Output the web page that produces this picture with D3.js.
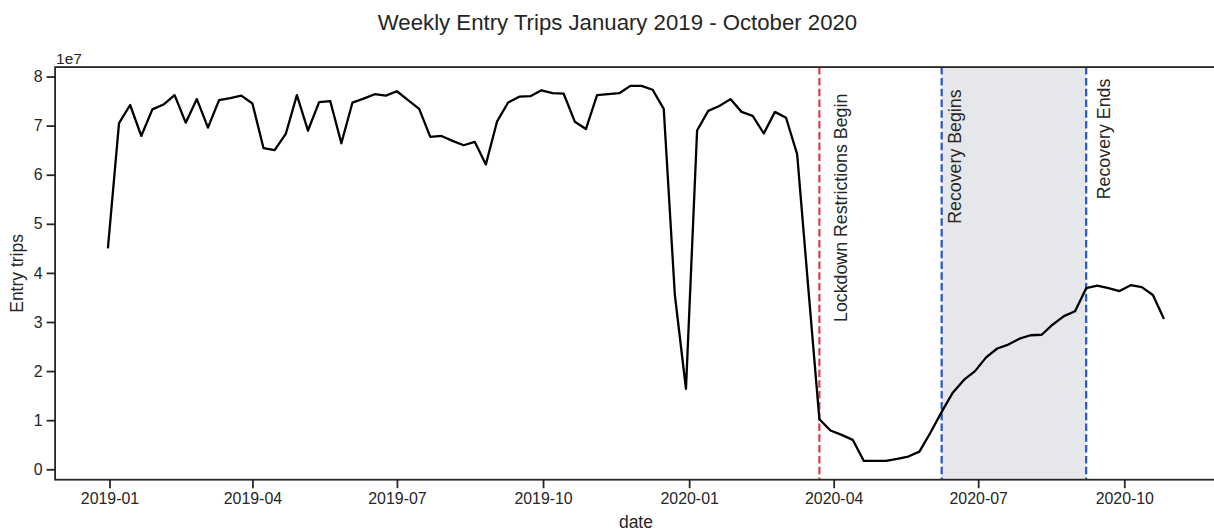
<!DOCTYPE html>
<html>
<head>
<meta charset="utf-8">
<script src="https://cdn.jsdelivr.net/npm/d3@7"></script>
<style>
  body { margin: 0; background: #fff; }
  svg { display: block; }
  text { font-family: "Liberation Sans", Arial, Helvetica, sans-serif; fill: #262626; }
</style>
</head>
<body>
<svg id="chart" width="1214" height="531"></svg>
<script>
// Weekly entry trips (millions), one value per week starting Monday 2018-12-31
const firstWeek = "2018-12-31";
const entryTripsMillions = [
  45.0, 70.5, 74.2, 67.9, 73.3, 74.3, 76.2, 70.6, 75.4, 69.6,
  75.2, 75.6, 76.1, 74.5, 65.4, 65.0, 68.3, 76.2, 69.0, 74.8,
  75.0, 66.4, 74.7, 75.5, 76.4, 76.1, 77.0, 75.2, 73.4, 67.7,
  67.9, 66.9, 66.0, 66.7, 62.1, 70.8, 74.7, 75.9, 76.0, 77.2,
  76.6, 76.5, 70.8, 69.3, 76.2, 76.4, 76.6, 78.1, 78.1, 77.3,
  73.4, 35.5, 16.4, 69.0, 73.0, 74.0, 75.4, 72.8, 72.0, 68.4,
  72.8, 71.6, 64.2, 37.0, 10.2, 7.9, 7.0, 6.0, 1.7, 1.7,
  1.7, 2.1, 2.6, 3.6, 7.5, 11.7, 15.6, 18.2, 20.0, 22.8,
  24.6, 25.4, 26.6, 27.3, 27.4, 29.5, 31.2, 32.2, 36.9, 37.4,
  36.9, 36.3, 37.5, 37.1, 35.5, 30.6
];

// Event markers
const eventDates  = ["2020-03-23", "2020-06-08", "2020-09-07"];
const eventLabels = ["Lockdown Restrictions Begin", "Recovery Begins", "Recovery Ends"];
// Where each event label sits (date, entry trips)
const labelDates  = ["2020-04-01", "2020-06-12", "2020-09-14"];
const labelValues = [30e6, 50e6, 55e6];

// Axis ticks
const xTickDates  = ["2019-01-01", "2019-04-01", "2019-07-01", "2019-10-01",
                     "2020-01-01", "2020-04-01", "2020-07-01", "2020-10-01"];
const yTickValues = [0, 1e7, 2e7, 3e7, 4e7, 5e7, 6e7, 7e7, 8e7];

const titleText = "Weekly Entry Trips January 2019 - October 2020";
const xLabel = "date";
const yLabel = "Entry trips";
const offsetLabel = "1e7";

// ---------------------------------------------------------------
const parse = d3.utcParse("%Y-%m-%d");
const start = parse(firstWeek);
const series = entryTripsMillions.map((m, i) => ({
  date: d3.utcDay.offset(start, 7 * i),
  value: m * 1e6
}));

const svg = d3.select("#chart");
const plot = { left: 55.1, right: 1216.8, top: 67.1, bottom: 479.7 };

// 5% padding on both axes, like the default autoscale margins
const xExt = d3.extent(series, d => d.date);
const xPad = (xExt[1] - xExt[0]) * 0.05;
const x = d3.scaleUtc()
  .domain([new Date(+xExt[0] - xPad), new Date(+xExt[1] + xPad)])
  .range([plot.left, plot.right]);

const yExt = d3.extent(series, d => d.value);
const yPad = (yExt[1] - yExt[0]) * 0.05;
const y = d3.scaleLinear()
  .domain([yExt[0] - yPad, yExt[1] + yPad])
  .range([plot.bottom, plot.top]);

const RED = "#d6404e";
const BLUE = "#2457c5";

// Recovery period shading
const recStart = parse(eventDates[1]), recEnd = parse(eventDates[2]);
svg.append("rect")
  .attr("x", x(recStart)).attr("y", plot.top)
  .attr("width", x(recEnd) - x(recStart))
  .attr("height", plot.bottom - plot.top)
  .attr("fill", "#e5e7ea");

// Event lines
svg.append("g").selectAll("line")
  .data(eventDates)
  .join("line")
  .attr("x1", d => x(parse(d))).attr("x2", d => x(parse(d)))
  .attr("y1", plot.top).attr("y2", plot.bottom)
  .attr("stroke", (d, i) => i === 0 ? RED : BLUE)
  .attr("stroke-width", 2.2)
  .attr("stroke-dasharray", "7.5,3.3");

// Entry trips line
svg.append("path")
  .datum(series)
  .attr("fill", "none")
  .attr("stroke", "#000")
  .attr("stroke-width", 2.3)
  .attr("stroke-linejoin", "round")
  .attr("d", d3.line().x(d => x(d.date)).y(d => y(d.value)));

// Event labels, rotated to read upwards
const annoSize = 17.8;
svg.append("g").selectAll("text")
  .data(eventLabels)
  .join("text")
  .attr("transform", (d, i) =>
    `translate(${x(parse(labelDates[i])) + 0.73 * annoSize},${y(labelValues[i])}) rotate(-90)`)
  .attr("font-size", annoSize)
  .text(d => d);

// Axes
const tickFont = 15.9;
const xAxis = svg.append("g")
  .attr("transform", `translate(0,${plot.bottom})`)
  .call(d3.axisBottom(x)
    .tickValues(xTickDates.map(parse))
    .tickFormat(d3.utcFormat("%Y-%m"))
    .tickSize(8.5).tickPadding(4.5).tickSizeOuter(0));
const yAxis = svg.append("g")
  .attr("transform", `translate(${plot.left},0)`)
  .call(d3.axisLeft(y)
    .tickValues(yTickValues)
    .tickFormat(d => d3.format("d")(d / 1e7))
    .tickSize(8.5).tickPadding(4).tickSizeOuter(0));
[xAxis, yAxis].forEach(g => {
  g.select(".domain").remove();
  g.selectAll(".tick line").attr("stroke", "#262626").attr("stroke-width", 1.8);
  g.selectAll(".tick text").attr("font-size", tickFont)
    .attr("font-family", "\"Liberation Sans\", Arial, sans-serif").attr("fill", "#262626");
});

// Frame
svg.append("rect")
  .attr("x", plot.left).attr("y", plot.top)
  .attr("width", plot.right - plot.left).attr("height", plot.bottom - plot.top)
  .attr("fill", "none").attr("stroke", "#262626").attr("stroke-width", 1.8);

// Offset text, axis labels and title
svg.append("text")
  .attr("x", plot.left + 1).attr("y", plot.top - 3.5)
  .attr("font-size", 15.5).text(offsetLabel);

svg.append("text")
  .attr("x", (plot.left + plot.right) / 2).attr("y", 527.5)
  .attr("text-anchor", "middle").attr("font-size", 17.5).text(xLabel);

svg.append("text")
  .attr("transform", `translate(22.8,${(plot.top + plot.bottom) / 2}) rotate(-90)`)
  .attr("text-anchor", "middle").attr("font-size", 17.5).text(yLabel);

svg.append("text")
  .attr("x", 617.5).attr("y", 29.5)
  .attr("text-anchor", "middle").attr("font-size", 22.2).text(titleText);
</script>
</body>
</html>
